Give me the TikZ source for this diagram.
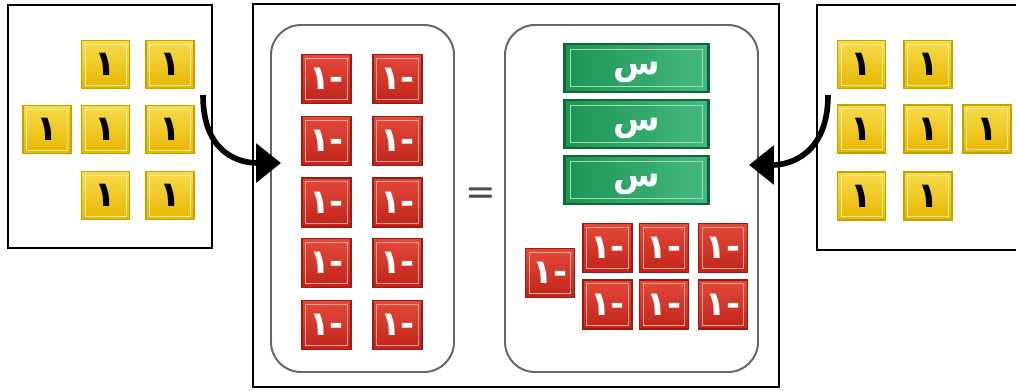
\documentclass[tikz,border=0pt]{standalone}
\usepackage{fontspec}
\usepackage{xcolor}
\usetikzlibrary{arrows.meta,positioning}
\TeXXeTstate=1
\newfontfamily\arabicfont[Script=Arabic]{DejaVu Sans}

\definecolor{goldedge}{HTML}{C8A000}
\definecolor{goldtop}{HTML}{F8DC4C}
\definecolor{goldbot}{HTML}{E6B600}
\definecolor{goldline}{HTML}{FBEA9C}
\definecolor{rededge}{HTML}{9E1A14}
\definecolor{redtop}{HTML}{E4493A}
\definecolor{redbot}{HTML}{C0241A}
\definecolor{redline}{HTML}{F3A196}
\definecolor{greenedge}{HTML}{0D6A38}
\definecolor{greenleft}{HTML}{1C9552}
\definecolor{greenright}{HTML}{46B982}
\definecolor{greenline}{HTML}{9FDDB9}

\tikzset{
  onetile/.style={rectangle, draw=goldedge, line width=1pt, top color=goldtop, bottom color=goldbot,
    minimum width=1.2cm, minimum height=1.2cm, inner sep=0pt, font=\arabicfont\bfseries\fontsize{25}{25}\selectfont,
    path picture={\draw[goldline, line width=0.7pt] ([shift={(2.5pt,-2.5pt)}]path picture bounding box.north west) rectangle ([shift={(-2.5pt,2.5pt)}]path picture bounding box.south east);}},
  negtile/.style={rectangle, draw=rededge, line width=1pt, top color=redtop, bottom color=redbot, text=white,
    minimum width=1.22cm, minimum height=1.22cm, inner sep=0pt, font=\arabicfont\bfseries\fontsize{24}{24}\selectfont,
    path picture={\draw[redline, line width=0.7pt] ([shift={(2.5pt,-2.5pt)}]path picture bounding box.north west) rectangle ([shift={(-2.5pt,2.5pt)}]path picture bounding box.south east);}},
  xbar/.style={rectangle, draw=greenedge, line width=2pt, left color=greenleft, right color=greenright, text=white,
    minimum width=3.6cm, minimum height=1.2cm, inner sep=0pt, text height=0.9em, text depth=0em,
    font=\arabicfont\bfseries\fontsize{24}{24}\selectfont,
    path picture={\draw[greenline, line width=0.7pt] ([shift={(4pt,-4pt)}]path picture bounding box.north west) rectangle ([shift={(-4pt,4pt)}]path picture bounding box.south east);}},
  panelbox/.style={draw=black, line width=2pt},
  halfbox/.style={draw=black!60, line width=1.4pt, rounded corners=0.75cm},
  turnarrow/.style={-{Triangle[length=0.62cm, width=0.95cm]}, line width=4pt}
}

\begin{document}
\begin{tikzpicture}[x=0.025cm, y=-0.025cm]
\useasboundingbox (0,0) rectangle (1016,390);
\clip (0,0) rectangle (1016,390);

% outer frames
\draw[panelbox] (8,5) rectangle (212,248);
\draw[panelbox] (253,4) rectangle (779,387);
\draw[panelbox] (817,5) rectangle (1030,250);
\draw[halfbox] (271,25) rectangle (454,372);
\draw[halfbox] (505,25) rectangle (758,372);

% left group of ones
\node[onetile] (l1) at (105.5,64.5) {\beginR ١\endR};
\node[onetile] (l2) at (170,64.5) {\beginR ١\endR};
\node[onetile] (l3) at (47,129.5) {\beginR ١\endR};
\node[onetile] (l4) at (105.5,129.5) {\beginR ١\endR};
\node[onetile] (l5) at (170,129.5) {\beginR ١\endR};
\node[onetile] (l6) at (105.5,195.5) {\beginR ١\endR};
\node[onetile] (l7) at (170,195.5) {\beginR ١\endR};

% right group of ones
\node[onetile] (r1) at (861.5,64.5) {\beginR ١\endR};
\node[onetile] (r2) at (928,64.5) {\beginR ١\endR};
\node[onetile] (r3) at (861.5,129) {\beginR ١\endR};
\node[onetile] (r4) at (928,129) {\beginR ١\endR};
\node[onetile] (r5) at (987,129) {\beginR ١\endR};
\node[onetile] (r6) at (861.5,196) {\beginR ١\endR};
\node[onetile] (r7) at (928,196) {\beginR ١\endR};

% ten negative ones
\node[negtile] (n1) at (326.5,79) {\beginR -١\endR};
\node[negtile] (n2) at (397.5,79) {\beginR -١\endR};
\node[negtile] (n3) at (326.5,141) {\beginR -١\endR};
\node[negtile] (n4) at (397.5,141) {\beginR -١\endR};
\node[negtile] (n5) at (326.5,202.5) {\beginR -١\endR};
\node[negtile] (n6) at (397.5,202.5) {\beginR -١\endR};
\node[negtile] (n7) at (326.5,263) {\beginR -١\endR};
\node[negtile] (n8) at (397.5,263) {\beginR -١\endR};
\node[negtile] (n9) at (326.5,325) {\beginR -١\endR};
\node[negtile] (n10) at (397.5,325) {\beginR -١\endR};

\node[font=\arabicfont\fontsize{26}{26}\selectfont, text=black!70] (eq) at (481,196) {=};

% three x bars
\node[xbar] (x1) at (636.5,68) {\beginR س\endR};
\node[xbar] (x2) at (636.5,124) {\beginR س\endR};
\node[xbar] (x3) at (636.5,180) {\beginR س\endR};

% seven negative ones
\node[negtile] (m1) at (550,273) {\beginR -١\endR};
\node[negtile] (m2) at (607.5,248) {\beginR -١\endR};
\node[negtile] (m3) at (664,248) {\beginR -١\endR};
\node[negtile] (m4) at (723,248) {\beginR -١\endR};
\node[negtile] (m5) at (607.5,304.5) {\beginR -١\endR};
\node[negtile] (m6) at (664,304.5) {\beginR -١\endR};
\node[negtile] (m7) at (723,304.5) {\beginR -١\endR};

% moving the sides into the equation
\coordinate (ltail) at (203,95);
\coordinate (lhead) at (281,163);
\coordinate (rtail) at (828,95);
\coordinate (rhead) at (749,165);
\draw[turnarrow] (ltail) .. controls +(0,60) and +(-40,0) .. (lhead);
\draw[turnarrow] (rtail) .. controls +(0,60) and +(40,0) .. (rhead);
\end{tikzpicture}
\end{document}
